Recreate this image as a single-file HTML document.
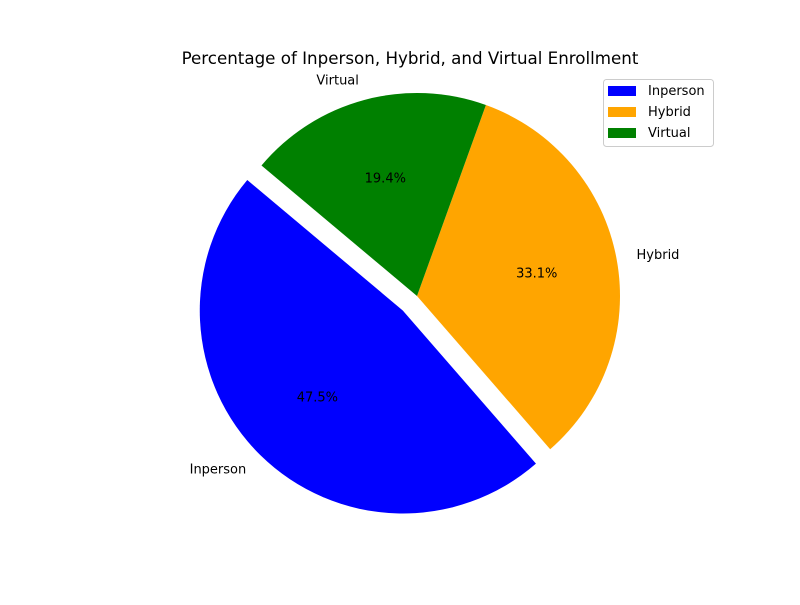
<!DOCTYPE html>
<html><head><meta charset="utf-8"><style>
body{margin:0;background:#fff}
svg text{font-family:"DejaVu Sans","Liberation Sans",sans-serif;font-size:13px;fill:#000}
</style></head><body>
<svg id="chart" width="800" height="600">
<rect width="800" height="600" fill="#fff"/>
<text x="410" y="64" text-anchor="middle" style="font-size:16.7px">Percentage of Inperson, Hybrid, and Virtual Enrollment</text>
<g id="wedges"></g>
<g>
<rect x="603.5" y="79.5" width="110" height="67" rx="3" fill="#fff" stroke="#ccc"/>
<g id="legend-items"></g>
</g>
</svg>
<script>
const categories = ["Inperson", "Hybrid", "Virtual"];
const values = [47.5, 33.1, 19.4];
const colors = ["#0000ff", "#ffa500", "#008000"];
const explode = [0.1, 0, 0];
const startAngle = 140;
const cx = 417, cy = 296, R = 203;
const ns = "http://www.w3.org/2000/svg";
const g = document.getElementById('wedges');
const total = values.reduce((a, b) => a + b, 0);
let a0 = startAngle;
values.forEach((v, i) => {
  const span = v / total * 360;
  const a1 = a0 + span;
  const mid = (a0 + a1) / 2 * Math.PI / 180;
  const ox = cx + explode[i] * R * Math.cos(mid), oy = cy - explode[i] * R * Math.sin(mid);
  const r0 = a0 * Math.PI / 180, r1 = a1 * Math.PI / 180;
  const x0 = ox + R * Math.cos(r0), y0 = oy - R * Math.sin(r0);
  const x1 = ox + R * Math.cos(r1), y1 = oy - R * Math.sin(r1);
  const p = document.createElementNS(ns, 'path');
  p.setAttribute('d', `M${ox},${oy} L${x0},${y0} A${R},${R} 0 ${span > 180 ? 1 : 0} 0 ${x1},${y1} Z`);
  p.setAttribute('fill', colors[i]);
  
  
  g.appendChild(p);
  const lx = ox + 1.1 * R * Math.cos(mid), ly = oy - 1.1 * R * Math.sin(mid);
  const t = document.createElementNS(ns, 'text');
  t.setAttribute('x', lx); t.setAttribute('y', ly + 4);
  t.setAttribute('text-anchor', Math.cos(mid) < 0 ? 'end' : 'start');
  t.textContent = categories[i];
  
  
  g.appendChild(t);
  const px = ox + 0.6 * R * Math.cos(mid), py = oy - 0.6 * R * Math.sin(mid);
  const pt = document.createElementNS(ns, 'text');
  pt.setAttribute('x', px); pt.setAttribute('y', py + 4);
  pt.setAttribute('text-anchor', 'middle');
  pt.textContent = (v / total * 100).toFixed(1) + '%';
  
  
  g.appendChild(pt);
  a0 = a1;
});
const lg = document.getElementById('legend-items');
categories.forEach((c, i) => {
  const y = 86 + i * 21;
  const r = document.createElementNS(ns, 'rect');
  r.setAttribute('x', 608); r.setAttribute('y', y); r.setAttribute('width', 28); r.setAttribute('height', 10);
  r.setAttribute('fill', colors[i]);
  
  
  lg.appendChild(r);
  const t = document.createElementNS(ns, 'text');
  t.setAttribute('x', 648); t.setAttribute('y', y + 9);
  t.textContent = c;
  
  
  lg.appendChild(t);
});
</script>
</body></html>
